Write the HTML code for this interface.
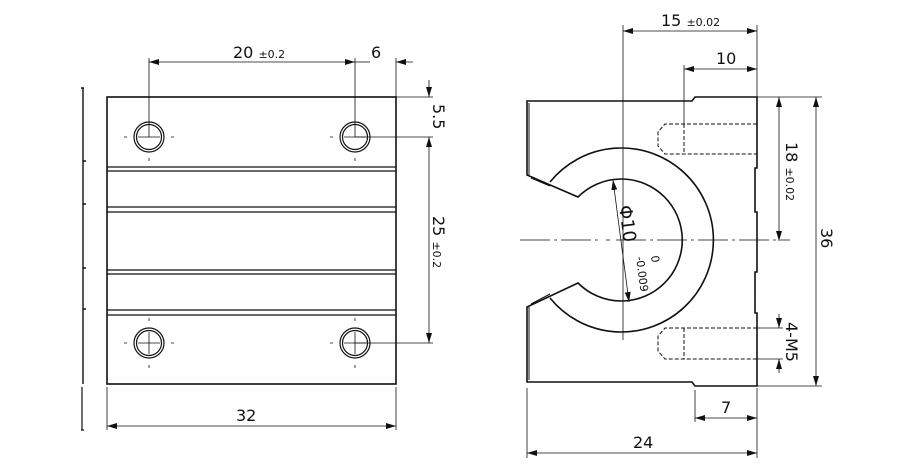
<!DOCTYPE html>
<html><head><meta charset="utf-8"><style>html,body{margin:0;padding:0;background:#fff}svg{display:block}text{font-family:"DejaVu Sans","Liberation Sans",sans-serif;fill:#111}</style></head>
<body>
<svg width="900" height="466" viewBox="0 0 900 466" xmlns="http://www.w3.org/2000/svg">
<defs>
<marker id="a" viewBox="0 0 10 6" refX="10" refY="3" markerWidth="10" markerHeight="6" orient="auto-start-reverse" markerUnits="userSpaceOnUse"><path d="M0,0 L10,3 L0,6z" fill="#111"/></marker>
</defs>
<g stroke="#111" fill="none" stroke-width="1.6">
<rect x="107" y="97" width="289" height="287"/>
<g stroke-width="1.2">
<line x1="107" y1="167" x2="396" y2="167"/><line x1="107" y1="171" x2="396" y2="171"/>
<line x1="107" y1="207" x2="396" y2="207"/><line x1="107" y1="212" x2="396" y2="212"/>
<line x1="107" y1="270" x2="396" y2="270"/><line x1="107" y1="274" x2="396" y2="274"/>
<line x1="107" y1="310" x2="396" y2="310"/><line x1="107" y1="315" x2="396" y2="315"/>
</g>
<g stroke-width="1.2">
<circle cx="149" cy="137" r="15"/><circle cx="149" cy="137" r="12.5"/>
<circle cx="355" cy="137" r="15"/><circle cx="355" cy="137" r="12.5"/>
<circle cx="149" cy="343" r="15"/><circle cx="149" cy="343" r="12.5"/>
<circle cx="355" cy="343" r="15"/><circle cx="355" cy="343" r="12.5"/>
</g>
<g stroke-width="0.8">
<path d="M124 137h3M138 137h22M171 137h3M149 158v3"/>
<path d="M330 137h3M344 137h22M355 158v3"/>
<path d="M124 343h3M138 343h22M171 343h3M149 318v3M149 332v22M149 365v3"/>
<path d="M330 343h3M344 343h22M355 318v3M355 332v22M355 365v3"/>
</g>
<path d="M83 88v296M81 88h3" stroke-width="1.4"/>
<path d="M83 161h3M83 204h3M83 268h3M83 309h3" stroke-width="1.4"/>
<path d="M82 387v43M81 430h3" stroke-width="1.2"/>
<g stroke-width="0.8">
<line x1="149" y1="58" x2="149" y2="137"/>
<line x1="355" y1="58" x2="355" y2="137"/>
<line x1="396" y1="58" x2="396" y2="97"/>
<line x1="149" y1="62" x2="355" y2="62" marker-start="url(#a)" marker-end="url(#a)"/>
<line x1="355" y1="62" x2="370" y2="62"/>
<line x1="413" y1="62" x2="396" y2="62" marker-end="url(#a)"/>
<line x1="396" y1="97" x2="433" y2="97"/>
<line x1="355" y1="137" x2="433" y2="137"/>
<line x1="355" y1="343" x2="433" y2="343"/>
<line x1="429" y1="80" x2="429" y2="97" marker-end="url(#a)"/>
<line x1="429" y1="137" x2="429" y2="343" marker-start="url(#a)" marker-end="url(#a)"/>
<line x1="107" y1="387" x2="107" y2="430"/>
<line x1="396" y1="387" x2="396" y2="430"/>
<line x1="107" y1="426" x2="396" y2="426" marker-start="url(#a)" marker-end="url(#a)"/>
</g>
<path d="M527 101 H692 L695 97 H757 V168 H755 V212 H757 V272 H755 V313 H757 V386 H695 L692 382 H527 V307 L578 283 A61 61 0 1 0 578 197 L527 175 Z"/>
<path d="M529 103 V175 M529 307 V380" stroke-width="1"/>
<path d="M531 178 L550 186 M531 304 L550 294" stroke-width="1"/>
<path d="M550 182 A92 92 0 1 1 550 298" />
<g stroke-width="1" stroke-dasharray="4 2">
<path d="M757 124 H665 L658 132 V146 L665 154 H757"/>
<path d="M684 124 V154"/>
<path d="M757 328 H665 L658 336 V351 L665 359 H757"/>
<path d="M684 328 V359"/>
</g>
<g stroke-width="0.8">
<path d="M520 240 H600 M606 240 H610 M616 240 H790" stroke-dasharray="30 4 3 4"/>
<line x1="623" y1="25" x2="623" y2="340"/>
<line x1="684" y1="65" x2="684" y2="124"/>
<line x1="757" y1="25" x2="757" y2="97"/>
<line x1="623" y1="31" x2="757" y2="31" marker-start="url(#a)" marker-end="url(#a)"/>
<line x1="684" y1="69" x2="757" y2="69" marker-start="url(#a)" marker-end="url(#a)"/>
<line x1="757" y1="97" x2="822" y2="97"/>
<line x1="757" y1="386" x2="822" y2="386"/>
<line x1="779" y1="97" x2="779" y2="241" marker-start="url(#a)" marker-end="url(#a)"/>
<line x1="816" y1="97" x2="816" y2="386" marker-start="url(#a)" marker-end="url(#a)"/>
<line x1="757" y1="328" x2="783" y2="328"/>
<line x1="757" y1="359" x2="783" y2="359"/>
<line x1="779" y1="314" x2="779" y2="328" marker-end="url(#a)"/>
<line x1="779" y1="373" x2="779" y2="359" marker-end="url(#a)"/>
<line x1="527" y1="388" x2="527" y2="458"/>
<line x1="695" y1="390" x2="695" y2="422"/>
<line x1="757" y1="388" x2="757" y2="458"/>
<line x1="695" y1="418" x2="757" y2="418" marker-start="url(#a)" marker-end="url(#a)"/>
<line x1="527" y1="453" x2="757" y2="453" marker-start="url(#a)" marker-end="url(#a)"/>
<line x1="613" y1="180" x2="629" y2="302" marker-start="url(#a)" marker-end="url(#a)"/>
</g>
</g>
<text x="233" y="58" font-size="16">20 <tspan font-size="11">±0.2</tspan></text>
<text x="371" y="58" font-size="16">6</text>
<text x="236" y="421" font-size="16">32</text>
<text transform="translate(433,104) rotate(90)" font-size="16">5.5</text>
<text transform="translate(433,216) rotate(90)" font-size="16">25 <tspan font-size="11">±0.2</tspan></text>
<text x="661" y="26" font-size="16">15 <tspan font-size="11">±0.02</tspan></text>
<text x="716" y="64" font-size="16">10</text>
<text x="721" y="413" font-size="16">7</text>
<text x="633" y="448" font-size="16">24</text>
<text transform="translate(786,142) rotate(90)" font-size="16">18 <tspan font-size="11">±0.02</tspan></text>
<text transform="translate(821,228) rotate(90)" font-size="16">36</text>
<text transform="translate(786,322) rotate(90)" font-size="16">4-M5</text>
<text transform="translate(619,206) rotate(82.5)" font-size="18">Φ10</text>
<text transform="translate(651,256) rotate(82.5)" font-size="11">0</text>
<text transform="translate(636,257) rotate(82.5)" font-size="11">-0.009</text>
</svg>
</body></html>
